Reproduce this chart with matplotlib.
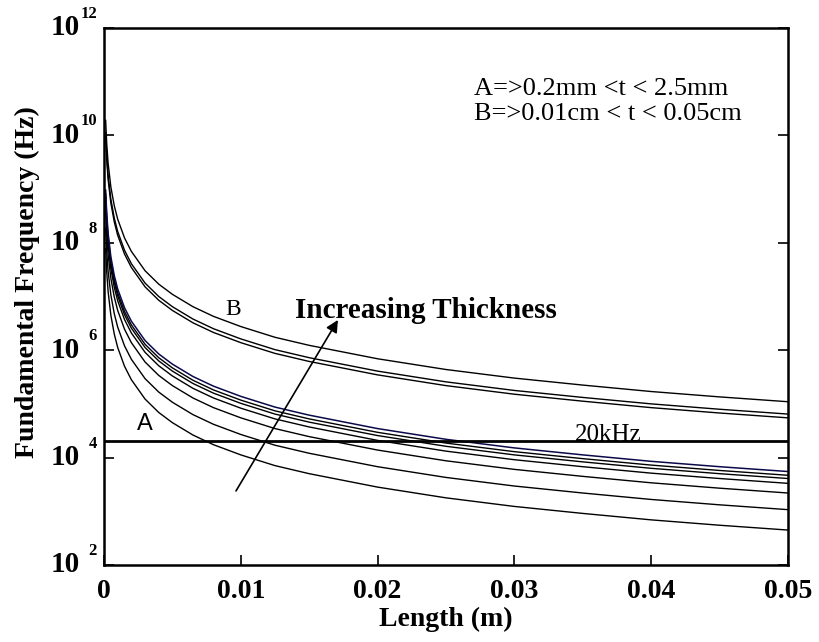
import numpy as np
import matplotlib
matplotlib.use("Agg")
import matplotlib.pyplot as plt
from matplotlib.ticker import FixedLocator, NullFormatter, NullLocator

plt.rcParams['font.family'] = ['Liberation Serif', 'DejaVu Serif']

# beam length (m) where the curves were read
length_m = [0.00012, 0.0002, 0.0003, 0.0005, 0.00075, 0.001, 0.0015, 0.002,
            0.003, 0.004, 0.005, 0.0065, 0.008, 0.01, 0.0125, 0.015, 0.02,
            0.025, 0.03, 0.035, 0.04, 0.045, 0.05]

# log10 of fundamental frequency (Hz)
# group B: 0.01cm < t < 0.05cm
b1_log = [10.28, 9.84, 9.48, 9.04, 8.69, 8.44, 8.09, 7.84, 7.48, 7.23, 7.04, 6.81,
          6.63, 6.44, 6.24, 6.09, 5.84, 5.64, 5.48, 5.35, 5.23, 5.13, 5.04]
b2_log = [10.05, 9.61, 9.25, 8.81, 8.46, 8.21, 7.86, 7.61, 7.25, 7.00, 6.81, 6.58,
          6.40, 6.21, 6.01, 5.86, 5.61, 5.41, 5.25, 5.12, 5.00, 4.90, 4.81]
b3_log = [9.98, 9.54, 9.18, 8.74, 8.39, 8.14, 7.79, 7.54, 7.18, 6.93, 6.74, 6.51,
          6.33, 6.14, 5.94, 5.79, 5.54, 5.34, 5.18, 5.05, 4.93, 4.83, 4.74]
# group A: 0.2mm < t < 2.5mm
a1_log = [8.98, 8.54, 8.18, 7.74, 7.39, 7.14, 6.79, 6.54, 6.18, 5.93, 5.74, 5.51,
          5.33, 5.14, 4.94, 4.79, 4.54, 4.34, 4.18, 4.05, 3.93, 3.83, 3.74]
a2_log = [8.91, 8.47, 8.11, 7.67, 7.32, 7.07, 6.72, 6.47, 6.11, 5.86, 5.67, 5.44,
          5.26, 5.07, 4.87, 4.72, 4.47, 4.27, 4.11, 3.98, 3.86, 3.76, 3.67]
a3_log = [8.85, 8.41, 8.05, 7.61, 7.26, 7.01, 6.66, 6.41, 6.05, 5.80, 5.61, 5.38,
          5.20, 5.01, 4.81, 4.66, 4.41, 4.21, 4.05, 3.92, 3.80, 3.70, 3.61]
a4_log = [8.76, 8.32, 7.96, 7.52, 7.17, 6.92, 6.57, 6.32, 5.96, 5.71, 5.52, 5.29,
          5.11, 4.92, 4.72, 4.57, 4.32, 4.12, 3.96, 3.83, 3.71, 3.61, 3.52]
a5_log = [8.58, 8.14, 7.78, 7.34, 6.99, 6.74, 6.39, 6.14, 5.78, 5.53, 5.34, 5.11,
          4.93, 4.74, 4.54, 4.39, 4.14, 3.94, 3.78, 3.65, 3.53, 3.43, 3.34]
a6_log = [8.27, 7.83, 7.47, 7.03, 6.68, 6.43, 6.08, 5.83, 5.47, 5.22, 5.03, 4.80,
          4.62, 4.43, 4.23, 4.08, 3.83, 3.63, 3.47, 3.34, 3.22, 3.12, 3.03]
a7_log = [7.89, 7.45, 7.09, 6.65, 6.30, 6.05, 5.70, 5.45, 5.09, 4.84, 4.65, 4.42,
          4.24, 4.05, 3.85, 3.70, 3.45, 3.25, 3.09, 2.96, 2.84, 2.74, 2.65]

limit_hz = 2e4
y_exponents = [2, 4, 6, 8, 10, 12]
x_ticks = [0, 0.01, 0.02, 0.03, 0.04, 0.05]
x_labels = ['0', '0.01', '0.02', '0.03', '0.04', '0.05']

fig = plt.figure(figsize=(8.19, 6.42), dpi=100)
ax = fig.add_axes([0.127, 0.120, 0.835, 0.8364])

L = np.array(length_m)
for curve in [b1_log, b2_log, b3_log, a2_log, a3_log, a4_log, a5_log, a6_log, a7_log]:
    ax.plot(L, 10 ** np.array(curve), color='black', lw=1.0)
ax.plot(L, 10 ** np.array(a1_log), color='#0a0a4a', lw=1.1)

ax.axhline(limit_hz, color='black', lw=2.0)

ax.set_yscale('log')
ax.set_xlim(0, 0.05)
ax.set_ylim(1e2, 1e12)
y_ticks = [10.0 ** e for e in y_exponents]
ax.yaxis.set_major_locator(FixedLocator(y_ticks))
ax.yaxis.set_minor_locator(NullLocator())
ax.yaxis.set_major_formatter(NullFormatter())
ax.set_xticks(x_ticks)
ax.set_xticklabels(x_labels, fontweight='bold')

ax.tick_params(direction='in', length=7, width=1.2, right=True, top=False,
               labelsize=20)
ax.tick_params(axis='x', pad=10)
for sp in ax.spines.values():
    sp.set_linewidth(1.8)

# y tick labels: big "10" with a small raised exponent
for e, v in zip(y_exponents, y_ticks):
    ax.annotate('10', xy=(0, v), xycoords=('axes fraction', 'data'),
                xytext=(-24, 0), textcoords='offset pixels', ha='right',
                va='center', fontsize=21, fontweight='bold')
    ax.annotate(str(e), xy=(0, v), xycoords=('axes fraction', 'data'),
                xytext=(-7, 14), textcoords='offset pixels', ha='right',
                va='center', fontsize=12, fontweight='bold')

ax.set_xlabel('Length (m)', fontsize=20, fontweight='bold', labelpad=2)
ax.set_ylabel('Fundamental Frequency (Hz)', fontsize=20, fontweight='bold')
ax.yaxis.set_label_coords(-0.094, 0.527)

ax.text(0.02705, 7.3e10, 'A=>0.2mm <t < 2.5mm', fontsize=19, va='center')
ax.text(0.02705, 2.5e10, 'B=>0.01cm < t < 0.05cm', fontsize=19, va='center')
ax.text(0.00943, 5.6e6, 'B', fontsize=17, ha='center', va='center')
ax.text(0.0030, 4.2e4, 'A', fontsize=17, ha='center', va='center',
        family='Liberation Sans')
ax.text(0.02354, 5.4e6, 'Increasing Thickness', fontsize=21,
        fontweight='bold', ha='center', va='center')
ax.text(0.03443, limit_hz, '20kHz', fontsize=18, va='baseline')

ax.annotate('', xy=(0.0171, 3.65e6), xytext=(0.00965, 2.39e3),
            arrowprops=dict(arrowstyle='-|>', color='black', lw=1.2,
                            mutation_scale=18, shrinkA=0, shrinkB=0))

fig.savefig('out.png', dpi=100)
